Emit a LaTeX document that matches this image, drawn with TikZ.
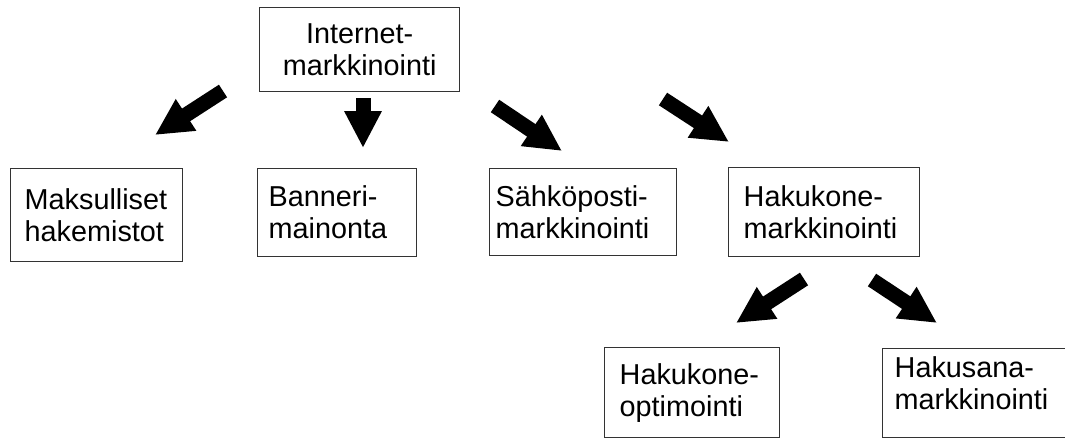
\documentclass[tikz,border=0pt]{standalone}
\usepackage{fontspec}
\setmainfont{Liberation Sans}
\usepackage[rgb]{xcolor}
\usepackage{tikz}
\usetikzlibrary{arrows.meta}

\begin{document}
\begin{tikzpicture}[x=1pt, y=-1pt,
  box/.style={draw=black!80, line width=1.4pt, inner ysep=0pt, anchor=north west,
    align=left, font=\fontsize{28.8}{32}\selectfont},
  bigarrow/.style={line width=15pt, -{Triangle[length=37pt, width=35pt]}}]

\useasboundingbox (0,0) rectangle (1065,439);

% Top box
\path
(259,7) node[box, align=center, inner xsep=0pt, text width=200pt, minimum height=84pt] (inet) {Internet-\\markkinointi};

% First row
\path
(10,168) node[box, inner xsep=14pt, text width=144pt, minimum height=93pt] (maks) {Maksulliset\\hakemistot}
(257,168) node[box, inner xsep=11pt, text width=137pt, minimum height=88pt] (bann) {Banneri-\\mainonta}
(489,168) node[box, inner xsep=6pt, text width=175pt, minimum height=87pt] (sahk) {Sähköposti-\\markkinointi}
(728,167) node[box, inner xsep=15pt, text width=161pt, minimum height=89pt] (haku) {Hakukone-\\markkinointi};

% Second row
\path
(604,347) node[box, inner xsep=15pt, text width=145pt, minimum height=90pt] (hopt) {Hakukone-\\optimointi}
(882,348) node[box, inner xsep=12pt, text width=160pt, minimum height=89pt, text depth=52pt] (hsan) {Hakusana-\\markkinointi};

% Arrow ends
\path
(223,91) coordinate (maks-a)  (155,135) coordinate (maks-b)
(363,98) coordinate (bann-a)  (363,148) coordinate (bann-b)
(495,106) coordinate (sahk-a) (562,151) coordinate (sahk-b)
(663,99) coordinate (haku-a)  (729,142) coordinate (haku-b)
(804,279) coordinate (hopt-a) (736,323) coordinate (hopt-b)
(872,280) coordinate (hsan-a) (937,323) coordinate (hsan-b);

% Arrows
\draw[bigarrow] (maks-a) -- (maks-b);
\draw[bigarrow] (bann-a) -- (bann-b);
\draw[bigarrow] (sahk-a) -- (sahk-b);
\draw[bigarrow] (haku-a) -- (haku-b);
\draw[bigarrow] (hopt-a) -- (hopt-b);
\draw[bigarrow] (hsan-a) -- (hsan-b);

\end{tikzpicture}
\end{document}
